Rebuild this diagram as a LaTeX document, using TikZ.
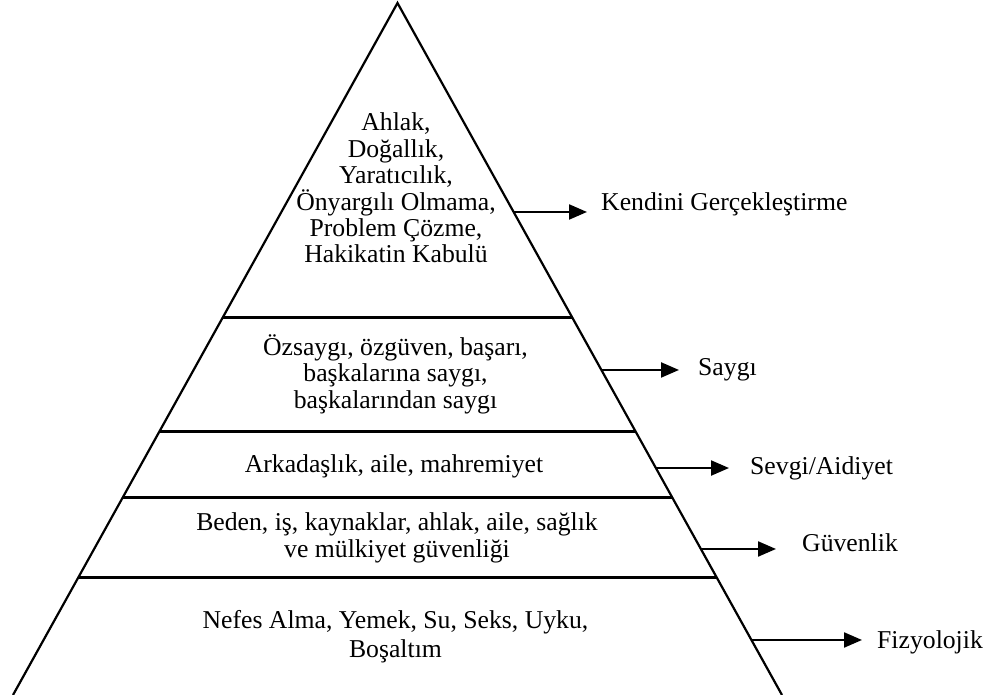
\documentclass[tikz,border=0pt]{standalone}
\usepackage{fontspec}
\setmainfont{Liberation Serif}
\usetikzlibrary{arrows.meta,calc}

\begin{document}
\begin{tikzpicture}[x=1pt,y=-1pt,
  edge/.style={line width=2.2pt,line join=miter},
  tier/.style={line width=3pt},
  arr/.style={line width=2.2pt,-{Triangle[length=18pt,width=15pt]}},
  block/.style={align=center,anchor=base,inner sep=0pt},
  lvl/.style={anchor=base west,inner sep=0pt,font=\fontsize{25.7}{28}\selectfont},
  pitch/.style={font=\fontsize{25.7}{#1}\selectfont}
]
\useasboundingbox (0,0) rectangle (997,695);

% pyramid outline (base runs below the page)
\coordinate (apex) at (397.5,3);
\coordinate (bl) at (13,695);
\coordinate (br) at (782,695);
\begin{scope}
  \clip (0,0) rectangle (997,695);
  \draw[edge] (bl) -- (apex) -- (br);
\end{scope}

% points on the two sides where the tiers split
\path (apex) -- (bl)
  coordinate[pos=0.4538] (l1) coordinate[pos=0.6199] (l2)
  coordinate[pos=0.7139] (l3) coordinate[pos=0.8295] (l4);
\path (apex) -- (br)
  coordinate[pos=0.4538] (r1) coordinate[pos=0.6199] (r2)
  coordinate[pos=0.7139] (r3) coordinate[pos=0.8295] (r4)
  coordinate[pos=0.3020] (e1) coordinate[pos=0.5303] (e2)
  coordinate[pos=0.6720] (e3) coordinate[pos=0.7890] (e4)
  coordinate[pos=0.9205] (e5);

\draw[tier] (l1) -- (r1);
\draw[tier] (l2) -- (r2);
\draw[tier] (l3) -- (r3);
\draw[tier] (l4) -- (r4);

% tier contents (anchored at the baseline of the last line)
\node[block,pitch=26.4] (t1) at (396,263)
  {Ahlak,\\Doğallık,\\Yaratıcılık,\\Önyargılı Olmama,\\Problem Çözme,\\Hakikatin Kabulü};
\node[block,pitch=26.5] (t2) at (395.5,408)
  {Özsaygı, özgüven, başarı,\\başkalarına saygı,\\başkalarından saygı};
\node[block,pitch=27] (t3) at (394,472)
  {Arkadaşlık, aile, mahremiyet};
\node[block,pitch=27] (t4) at (397,557)
  {Beden, iş, kaynaklar, ahlak, aile, sağlık\\ve mülkiyet güvenliği};
\node[block,pitch=29] (t5) at (395.5,657)
  {Nefes Alma, Yemek, Su, Seks, Uyku,\\Boşaltım};

% level names
\node[lvl] (n1) at (601,211) {Kendini Gerçekleştirme};
\node[lvl] (n2) at (698,375) {Saygı};
\node[lvl] (n3) at (750,474) {Sevgi/Aidiyet};
\node[lvl] (n4) at (802,551) {Güvenlik};
\node[lvl] (n5) at (877,648) {Fizyolojik};

% arrow tips
\coordinate (a1) at (587,0);
\coordinate (a2) at (679,0);
\coordinate (a3) at (729,0);
\coordinate (a4) at (776,0);
\coordinate (a5) at (862,0);

\draw[arr] (e1) -- (e1 -| a1);
\draw[arr] (e2) -- (e2 -| a2);
\draw[arr] (e3) -- (e3 -| a3);
\draw[arr] (e4) -- (e4 -| a4);
\draw[arr] (e5) -- (e5 -| a5);
\end{tikzpicture}
\end{document}
